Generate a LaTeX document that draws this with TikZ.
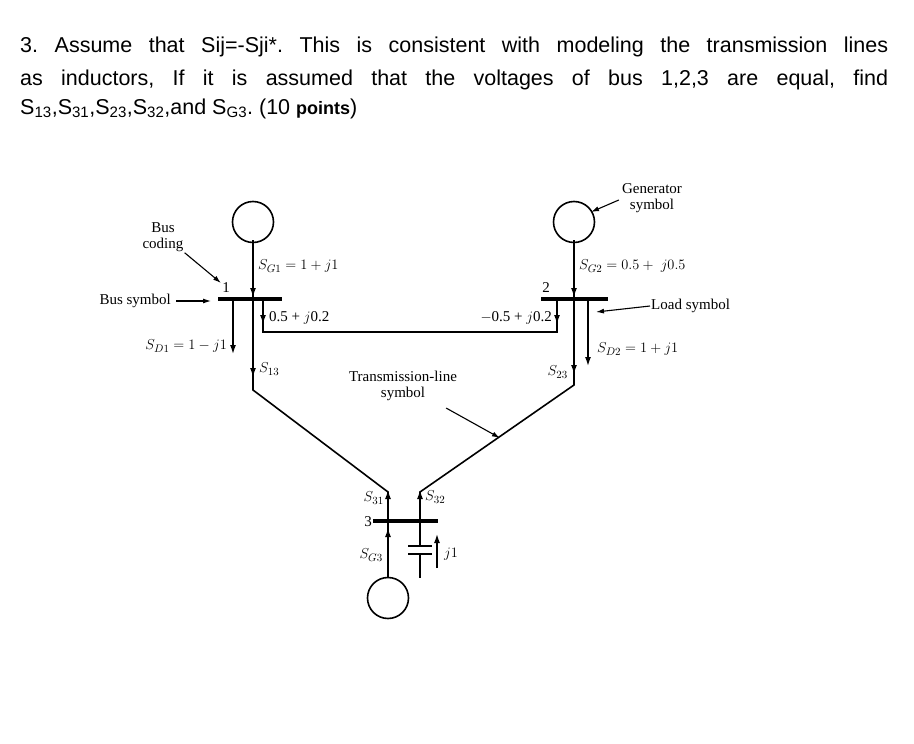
\documentclass[tikz,border=0pt]{standalone}
\usepackage{amsmath}
\usepackage{fontspec}
\setmainfont{Liberation Sans}
\newfontfamily\figfont{Liberation Serif}
\usetikzlibrary{arrows.meta}
\frenchspacing

\tikzset{
  bar/.style={line width=3.6pt},
  wire/.style={line width=1.6pt},
  flow/.style={line width=1.4pt,-{Latex[length=9pt,width=6pt]}},
  gen/.style={circle,draw,line width=1.6pt,minimum size=41pt,inner sep=0pt},
  lbl/.style={font=\figfont\fontsize{15}{16}\selectfont,inner sep=1pt},
  note/.style={line width=1.1pt,-{Latex[length=8pt,width=5pt]}},
}

\begin{document}
\begin{tikzpicture}[x=1pt,y=-1pt]
  \useasboundingbox (0,0) rectangle (914,744);
  % Enunciado
  \begin{scope}[every node/.style={anchor=base west,inner sep=0pt,font=\fontsize{21.5}{24}\selectfont}]
    \node (t1) at (20,52) {\makebox[868pt][s]{3. Assume that Sij=-Sji*. This is consistent with modeling the transmission lines}};
    \node (t2) at (20,85) {\makebox[868pt][s]{as inductors, If it is assumed that the voltages of bus 1,2,3 are equal, find}};
    \node (t3) at (20,114) {S\textsubscript{13},S\textsubscript{31},S\textsubscript{23},S\textsubscript{32},and S\textsubscript{G3}. (10 \textbf{\fontsize{18}{20}\selectfont points})};
  \end{scope}

  % Generadores
  \node[gen] (g1) at (253,222) {};
  \node[gen] (g2) at (574,222) {};
  \node[gen] (g3) at (388,598) {};

  % Barras
  \coordinate (b1l) at (218,299); \coordinate (b1r) at (282,299);
  \coordinate (b2l) at (541,299); \coordinate (b2r) at (608,299);
  \coordinate (b3l) at (373,521); \coordinate (b3r) at (438,521);
  \draw[bar] (b1l) -- (b1r);
  \draw[bar] (b2l) -- (b2r);
  \draw[bar] (b3l) -- (b3r);

  % Lineas
  \coordinate (k1) at (253,390); \coordinate (k2) at (574,385);
  \coordinate (k31) at (388,492); \coordinate (k32) at (420,492);
  \coordinate (m1) at (263,332); \coordinate (m2) at (557,332);
  \draw[wire] (g1.south) -- (k1) -- (k31) -- (388,521);
  \draw[wire] (g2.south) -- (k2) -- (k32) -- (420,521);
  \draw[wire] (263,299) -- (m1) -- (m2) -- (557,299);
  \draw[wire] (388,521) -- (g3.north);
  \draw[wire] (233,299) -- (233,330);
  \draw[wire] (588,299) -- (588,340);

  % Capacitor
  \draw[wire] (420,521) -- (420,546);
  \draw[line width=2pt] (408,546) -- (432,546) (408,554) -- (432,554);
  \draw[wire] (420,554) -- (420,578);

  % Flechas de potencia
  \draw[flow] (253,240) -- (253,297);
  \draw[flow] (253,340) -- (253,377);
  \draw[flow] (233,320) -- (233,354);
  \draw[flow] (263,302) -- (263,324);
  \draw[flow] (574,240) -- (574,297);
  \draw[flow] (574,340) -- (574,374);
  \draw[flow] (588,330) -- (588,366);
  \draw[flow] (557,302) -- (557,324);
  \draw[flow] (388,515) -- (388,490);
  \draw[flow] (420,515) -- (420,490);
  \draw[flow] (388,570) -- (388,528);
  \draw[flow] (437,568) -- (437,534);

  % Etiquetas
  \node[lbl,anchor=west] (sg1) at (257,266) {$S_{G1}=1+j1$};
  \node[lbl,anchor=south] (n1) at (226,294) {1};
  \node[lbl,anchor=west] (l12) at (268,318) {0.5 + $j$0.2};
  \node[lbl,anchor=east] (sd1) at (228,346) {$S_{D1}=1-j1$};
  \node[lbl,anchor=west] (s13) at (258,369) {$S_{13}$};
  \node[lbl,anchor=west] (sg2) at (578,266) {$S_{G2}=0.5+\;j0.5$};
  \node[lbl,anchor=south] (n2) at (546,294) {2};
  \node[lbl,anchor=east] (l21) at (553,318) {$-$0.5 + $j$0.2};
  \node[lbl,anchor=west] (sd2) at (596,349) {$S_{D2}=1+j1$};
  \node[lbl,anchor=east] (s23) at (569,372) {$S_{23}$};
  \node[lbl,anchor=east] (s31) at (385,498) {$S_{31}$};
  \node[lbl,anchor=west] (s32) at (424,497) {$S_{32}$};
  \node[lbl,anchor=east] (n3) at (373,522) {3};
  \node[lbl,anchor=east] (sg3) at (384,555) {$S_{G3}$};
  \node[lbl,anchor=west] (j1) at (443,554) {$j1$};
  \node[lbl,align=center] (tls) at (403,386) {Transmission-line\\symbol};
  \node[lbl,align=center] (bc) at (163,237) {Bus\\coding};
  \node[lbl,anchor=east] (bs) at (172,301) {Bus symbol};
  \node[lbl,anchor=west] (ls) at (650,306) {Load symbol};
  \node[lbl,align=center] (gs) at (652,198) {Generator\\symbol};

  % Flechas de notas
  \draw[note] (bc.south east) -- (221,283);
  \draw[note] (bs.east) ++(4,0) -- (211,301);
  \draw[note] (ls.west) -- (596,312);
  \draw[note] (gs.west) ++(-2,2) -- (591,212);
  \draw[note] (tls.south east) ++(-12,6) -- (500,438);
\end{tikzpicture}
\end{document}
